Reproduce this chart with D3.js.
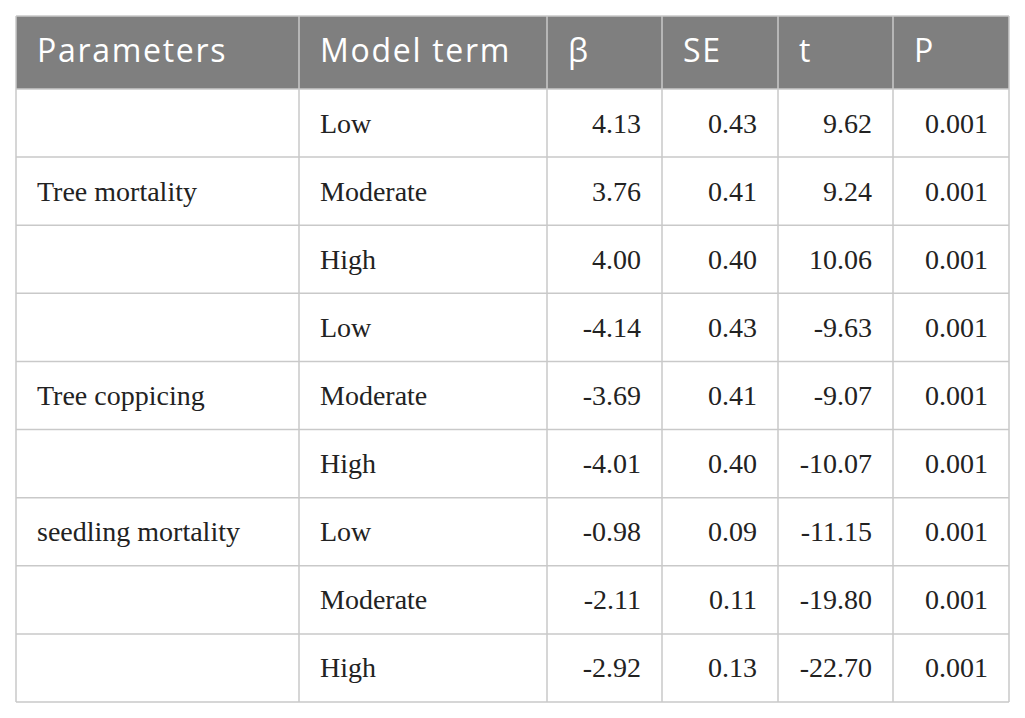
<!DOCTYPE html>
<html>
<head>
<meta charset="utf-8">
<script src="https://cdn.jsdelivr.net/npm/d3@7"></script>
<style>
  body { margin: 0; background: #fff; }
</style>
</head>
<body>
<svg width="1025" height="718"></svg>
<script>
// table contents
const headers = ["Parameters", "Model term", "β", "SE", "t", "P"];
const parameters = ["", "Tree mortality", "", "", "Tree coppicing", "", "seedling mortality", "", ""];
const terms = ["Low", "Moderate", "High", "Low", "Moderate", "High", "Low", "Moderate", "High"];
const beta = ["4.13", "3.76", "4.00", "-4.14", "-3.69", "-4.01", "-0.98", "-2.11", "-2.92"];
const se = ["0.43", "0.41", "0.40", "0.43", "0.41", "0.40", "0.09", "0.11", "0.13"];
const tval = ["9.62", "9.24", "10.06", "-9.63", "-9.07", "-10.07", "-11.15", "-19.80", "-22.70"];
const pval = ["0.001", "0.001", "0.001", "0.001", "0.001", "0.001", "0.001", "0.001", "0.001"];

const svg = d3.select("svg");

// column edges
const edges = [16, 299, 547, 662, 778, 893, 1009];
const tableTop = 16, headBottom = 89, tableBottom = 702;
const pad = 21;
const lineColor = "#c9c9c9";

const rows = parameters.map((p, i) => [p, terms[i], beta[i], se[i], tval[i], pval[i]]);

const y = d3.scaleBand()
  .domain(d3.range(rows.length))
  .range([headBottom, tableBottom]);

// header band
svg.append("rect")
  .attr("x", edges[0])
  .attr("y", tableTop)
  .attr("width", edges[6] - edges[0])
  .attr("height", headBottom - tableTop)
  .attr("fill", "#7f7f7f");

svg.selectAll("text.head")
  .data(headers)
  .enter()
  .append("text")
  .attr("class", "head")
  .attr("x", (d, i) => edges[i] + pad)
  .attr("y", 62)
  .attr("fill", "#fff")
  .style("font-family", "'Open Sans', sans-serif")
  .style("font-size", "32px")
  .style("letter-spacing", "1.7px")
  .text((d) => d);

// horizontal rules
const hLines = [tableTop, headBottom].concat(d3.range(rows.length).map((i) => y(i) + y.bandwidth()));
svg.selectAll("line.h")
  .data(hLines)
  .enter()
  .append("line")
  .attr("class", "h")
  .attr("x1", edges[0])
  .attr("x2", edges[6])
  .attr("y1", (d) => d)
  .attr("y2", (d) => d)
  .attr("stroke", lineColor)
  .attr("stroke-width", 1.5);

// vertical rules
svg.selectAll("line.v")
  .data(edges)
  .enter()
  .append("line")
  .attr("class", "v")
  .attr("x1", (d) => d)
  .attr("x2", (d) => d)
  .attr("y1", tableTop)
  .attr("y2", tableBottom)
  .attr("stroke", lineColor)
  .attr("stroke-width", 1.5);

// body cells
const row = svg.selectAll("g.row")
  .data(rows)
  .enter()
  .append("g")
  .attr("class", "row")
  .attr("transform", (d, i) => `translate(0,${y(i) + y.bandwidth() / 2 + 9.5})`);

row.selectAll("text")
  .data((d) => d)
  .enter()
  .append("text")
  .attr("x", (d, i) => (i < 2 ? edges[i] + pad : edges[i + 1] - pad))
  .attr("text-anchor", (d, i) => (i < 2 ? "start" : "end"))
  .attr("fill", "#222")
  .style("font-family", "'Liberation Serif', serif")
  .style("font-size", "28px")
  .text((d) => d);
</script>
</body>
</html>
